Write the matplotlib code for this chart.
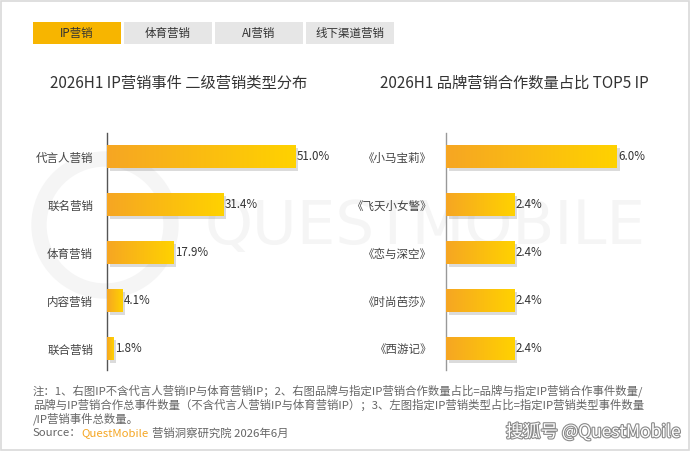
import numpy as np
import matplotlib.pyplot as plt
import matplotlib.patheffects as pe
from matplotlib.patches import Rectangle, Circle
from matplotlib.colors import LinearSegmentedColormap

plt.rcParams['font.family'] = ['Noto Sans CJK SC', 'DejaVu Sans']

# data
tabs = ['IP营销', '体育营销', 'AI营销', '线下渠道营销']
left_title = '2026H1 IP营销事件 二级营销类型分布'
left_cats = ['代言人营销', '联名营销', '体育营销', '内容营销', '联合营销']
left_vals = [51.0, 31.4, 17.9, 4.1, 1.8]
right_title = '2026H1 品牌营销合作数量占比 TOP5 IP'
right_cats = ['《小马宝莉》', '《飞天小女警》', '《恋与深空》', '《时尚芭莎》', '《西游记》']
right_vals = [6.0, 2.4, 2.4, 2.4, 2.4]
notes = [
    '注：1、右图IP不含代言人营销IP与体育营销IP；2、右图品牌与指定IP营销合作数量占比=品牌与指定IP营销合作事件数量/',
    '品牌与IP营销合作总事件数量（不含代言人营销IP与体育营销IP）；3、左图指定IP营销类型占比=指定IP营销类型事件数量',
    '/IP营销事件总数量。',
]

W, H = 690, 451
fig = plt.figure(figsize=(W / 100, H / 100), dpi=100)
fig.patch.set_facecolor('white')


def fx(px):
    return px / W


def fy(py):
    return 1 - py / H


# background layer for watermark (below the chart axes)
bg = fig.add_axes([0, 0, 1, 1], zorder=-10)
bg.set_xlim(0, W)
bg.set_ylim(H, 0)
bg.axis('off')
bg.add_patch(Circle((105, 225), 66, fill=False, edgecolor='#f5f5f5', lw=11))
bg.text(205, 228, 'QUESTMOBILE', fontsize=44, color='#f5f5f5', ha='left', va='center',
        family='DejaVu Sans')
bg.add_patch(Rectangle((0.5, 0.5), W - 1.5, H - 1.5, fill=False, edgecolor='#d9d9d9', lw=1.2))

# tabs
tab_x = [33, 124, 215, 306]
for i, (t, x0) in enumerate(zip(tabs, tab_x)):
    fc = '#F7B500' if i == 0 else '#E6E6E6'
    bg.add_patch(Rectangle((x0, 22), 88, 22, facecolor=fc, edgecolor='none'))
    bg.text(x0 + 44, 33, t, fontsize=8.3, color='#333333', ha='center', va='center')

# titles
bg.text(179, 83, left_title, fontsize=11, color='#333333', ha='center', va='center')
bg.text(514, 83, right_title, fontsize=11, color='#333333', ha='center', va='center')

cmap = LinearSegmentedColormap.from_list('bar', ['#F6A623', '#FFD200'])
grad = np.linspace(0, 1, 256).reshape(1, -1)


def draw_panel(ax, cats, vals, xmax, axis_color):
    y = np.arange(len(cats))
    bars = ax.barh(y, vals, height=0.48, color='#FFC000', edgecolor='none', zorder=2)
    for b in bars:
        b.set_path_effects([pe.SimplePatchShadow(offset=(2, -2), shadow_rgbFace='#999999', alpha=0.35),
                            pe.Normal()])
        x0, y0 = b.get_x(), b.get_y()
        im = ax.imshow(grad, cmap=cmap, aspect='auto', zorder=3,
                       extent=(x0, x0 + b.get_width(), y0 + b.get_height(), y0))
        im.set_clip_path(b)
    for yi, v in zip(y, vals):
        ax.text(v + xmax * 0.006, yi, f'{v:.1f}%', fontsize=8.3, color='#333333',
                ha='left', va='center', zorder=4)
    ax.set_xlim(0, xmax)
    ax.set_ylim(len(cats) - 0.55, -0.5)
    ax.set_yticks(y)
    ax.set_yticklabels(cats, fontsize=8.3, color='#444444')
    ax.tick_params(axis='y', length=0, pad=10)
    ax.set_xticks([])
    for s in ['top', 'right', 'bottom']:
        ax.spines[s].set_visible(False)
    ax.spines['left'].set_color(axis_color)
    ax.spines['left'].set_linewidth(1)
    ax.patch.set_alpha(0)


ax1 = fig.add_axes([fx(107), fy(370), 222 / W, 237 / H])
draw_panel(ax1, left_cats, left_vals, 60, '#555555')

ax2 = fig.add_axes([fx(446), fy(370), 222 / W, 237 / H])
draw_panel(ax2, right_cats, right_vals, 7.8, '#999999')

# notes
for i, line in enumerate(notes):
    bg.text(33, 391 + 14 * i, line, fontsize=8.2, color='#666666', ha='left', va='center')
t = bg.text(33, 433, 'Source：', fontsize=8.2, color='#666666', ha='left', va='center')
fig.canvas.draw()
bb = t.get_window_extent()
t2 = bg.text(bb.x1, 433, 'QuestMobile', fontsize=8.2, color='#F5A623', ha='left', va='center')
t2.set_x(bb.x1)
fig.canvas.draw()
bb2 = t2.get_window_extent()
bg.text(bb2.x1 + 3, 433, '营销洞察研究院 2026年6月', fontsize=8.2, color='#666666',
        ha='left', va='center')

# platform watermark
bg.text(681, 432, '搜狐号 @QuestMobile', fontsize=12.5, color='white', ha='right', va='center',
        path_effects=[pe.withStroke(linewidth=1.6, foreground='#8a8a8a')])

fig.savefig('out.png', dpi=100)
